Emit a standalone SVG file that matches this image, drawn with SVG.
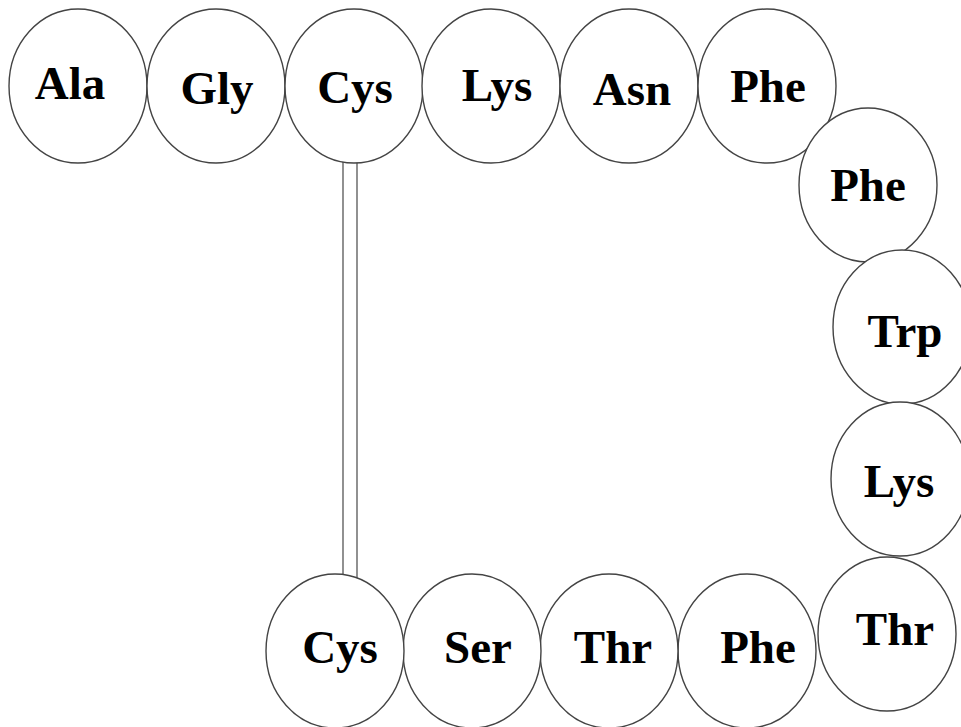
<svg xmlns="http://www.w3.org/2000/svg" width="961" height="727" viewBox="0 0 961 727">
<style>
.n ellipse{fill:#fff;stroke:#444;stroke-width:1.4}
.n text{font-family:"Liberation Serif","Times New Roman",serif;font-weight:bold;font-size:47px;fill:#000;text-anchor:middle}
.b line{stroke:#555;stroke-width:1.3}
</style>
<rect width="961" height="727" fill="#fff"/>
<g class="b" id="connectors">
<line x1="343" y1="160" x2="343" y2="580"/>
<line x1="357" y1="160" x2="357" y2="580"/>
</g>
<g class="n" id="ala1"><ellipse cx="78" cy="86" rx="69" ry="77"/><text x="70" y="99">Ala</text></g>
<g class="n" id="gly2"><ellipse cx="216" cy="86" rx="69" ry="77"/><text x="217" y="104">Gly</text></g>
<g class="n" id="cys3"><ellipse cx="354" cy="86" rx="69" ry="77"/><text x="355" y="103">Cys</text></g>
<g class="n" id="lys4"><ellipse cx="491" cy="86" rx="69" ry="77"/><text x="497" y="101">Lys</text></g>
<g class="n" id="asn5"><ellipse cx="629" cy="86" rx="69" ry="77"/><text x="632" y="105">Asn</text></g>
<g class="n" id="phe6"><ellipse cx="767" cy="86" rx="69" ry="77"/><text x="768" y="102">Phe</text></g>
<g class="n" id="phe7"><ellipse cx="868" cy="185" rx="69" ry="77"/><text x="868" y="201">Phe</text></g>
<g class="n" id="trp8"><ellipse cx="902" cy="327" rx="69" ry="77"/><text x="905" y="347">Trp</text></g>
<g class="n" id="lys9"><ellipse cx="900" cy="479" rx="69" ry="77"/><text x="899" y="497">Lys</text></g>
<g class="n" id="thr10"><ellipse cx="887" cy="634" rx="69" ry="77"/><text x="895" y="645">Thr</text></g>
<g class="n" id="phe11"><ellipse cx="747" cy="651" rx="69" ry="77"/><text x="758" y="663">Phe</text></g>
<g class="n" id="thr12"><ellipse cx="609" cy="651" rx="69" ry="77"/><text x="613" y="663">Thr</text></g>
<g class="n" id="ser13"><ellipse cx="472" cy="651" rx="69" ry="77"/><text x="478" y="663">Ser</text></g>
<g class="n" id="cys14"><ellipse cx="335" cy="651" rx="69" ry="77"/><text x="340" y="663">Cys</text></g>
</svg>
